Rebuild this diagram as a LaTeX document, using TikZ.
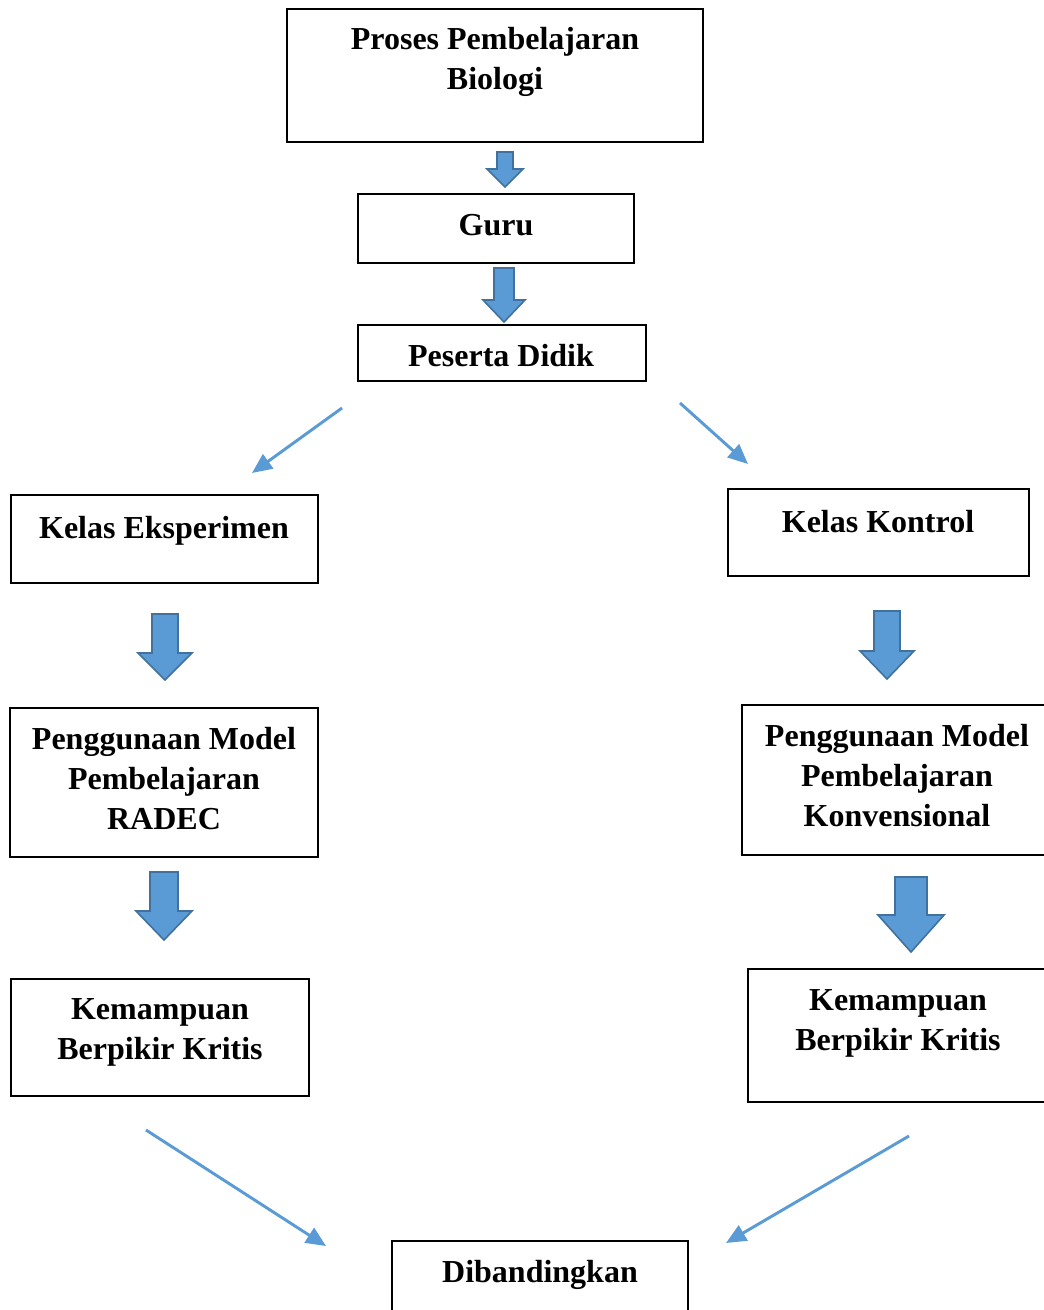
\documentclass[tikz,border=0pt]{standalone}
\usepackage{fontspec}
\setmainfont{Liberation Serif}
\usetikzlibrary{arrows.meta}
\begin{document}
\begin{tikzpicture}[x=0.75pt,y=-0.75pt,
  box/.style={draw=black,line width=1.5pt,inner sep=0pt},
  txt/.style={font=\bfseries\fontsize{24}{30}\selectfont,align=center,inner sep=0pt},
  barrow/.style={fill=arrowblue,draw=arrowedge,line width=1.2pt,line join=miter},
  thinarr/.style={draw=arrowblue,line width=2.2pt,-{Triangle[length=15pt,width=13pt]}}]
\definecolor{arrowblue}{HTML}{5B9BD5}
\definecolor{arrowedge}{HTML}{41719C}
\useasboundingbox (0,0) rectangle (1044,1310);
\clip (0,0) rectangle (1044,1310);
\fill[white] (0,0) rectangle (1044,1310);
% boxes
\node[box,minimum width=416*0.75pt,minimum height=133*0.75pt] (b1) at (495,75.5) {};
\node[box,minimum width=276*0.75pt,minimum height=69*0.75pt] (b2) at (496,228.5) {};
\node[box,minimum width=288*0.75pt,minimum height=56*0.75pt] (b3) at (502,353) {};
\node[box,minimum width=307*0.75pt,minimum height=88*0.75pt] (b4) at (164.5,539) {};
\node[box,minimum width=301*0.75pt,minimum height=87*0.75pt] (b5) at (878.5,532.5) {};
\node[box,minimum width=308*0.75pt,minimum height=149*0.75pt] (b6) at (164,782.5) {};
\node[box,minimum width=310*0.75pt,minimum height=150*0.75pt] (b7) at (897,780) {};
\node[box,minimum width=298*0.75pt,minimum height=117*0.75pt] (b8) at (160,1037.5) {};
\node[box,minimum width=310*0.75pt,minimum height=133*0.75pt] (b9) at (903,1035.5) {};
\node[box,minimum width=296*0.75pt,minimum height=100*0.75pt] (b10) at (540,1291) {};
% texts
\node[txt] (t1) at (495,62) {Proses Pembelajaran\\Biologi};
\node[txt] (t2) at (496,225) {Guru};
\node[txt] (t3) at (501,356) {Peserta Didik};
\node[txt] (t4) at (164,531) {Kelas Eksperimen};
\node[txt] (t5) at (878,522) {Kelas Kontrol};
\node[txt] (t6) at (164,779) {Penggunaan Model\\Pembelajaran\\RADEC};
\node[txt] (t7) at (897,776) {Penggunaan Model\\Pembelajaran\\Konvensional};
\node[txt] (t8) at (160,1032) {Kemampuan\\Berpikir Kritis};
\node[txt] (t9) at (898,1023) {Kemampuan\\Berpikir Kritis};
\node[txt] (t10) at (540,1275) {Dibandingkan};
% block arrows: center x, top, head start, tip, half shaft, half head
\newcommand\blockarr[6]{%
  \draw[barrow] (#1-#5,#2) -- (#1+#5,#2) -- (#1+#5,#3) -- (#1+#6,#3) -- (#1,#4)
    -- (#1-#6,#3) -- (#1-#5,#3) -- cycle;}
\blockarr{505}{152}{169}{187}{8}{18}
\blockarr{504}{268}{300}{322}{10}{21}
\blockarr{165}{614}{653}{680}{13}{27}
\blockarr{164}{872}{911}{940}{14}{28}
\blockarr{887}{611}{651}{679}{13}{27}
\blockarr{911}{877}{915}{952}{16}{33}
% thin arrows
\coordinate (a1s) at (342,408); \coordinate (a1e) at (252,473);
\coordinate (a2s) at (680,403); \coordinate (a2e) at (748,464);
\coordinate (a3s) at (146,1130); \coordinate (a3e) at (326,1246);
\coordinate (a4s) at (909,1136); \coordinate (a4e) at (726,1243);
\draw[thinarr] (a1s) -- (a1e);
\draw[thinarr] (a2s) -- (a2e);
\draw[thinarr] (a3s) -- (a3e);
\draw[thinarr] (a4s) -- (a4e);
\end{tikzpicture}
\end{document}
